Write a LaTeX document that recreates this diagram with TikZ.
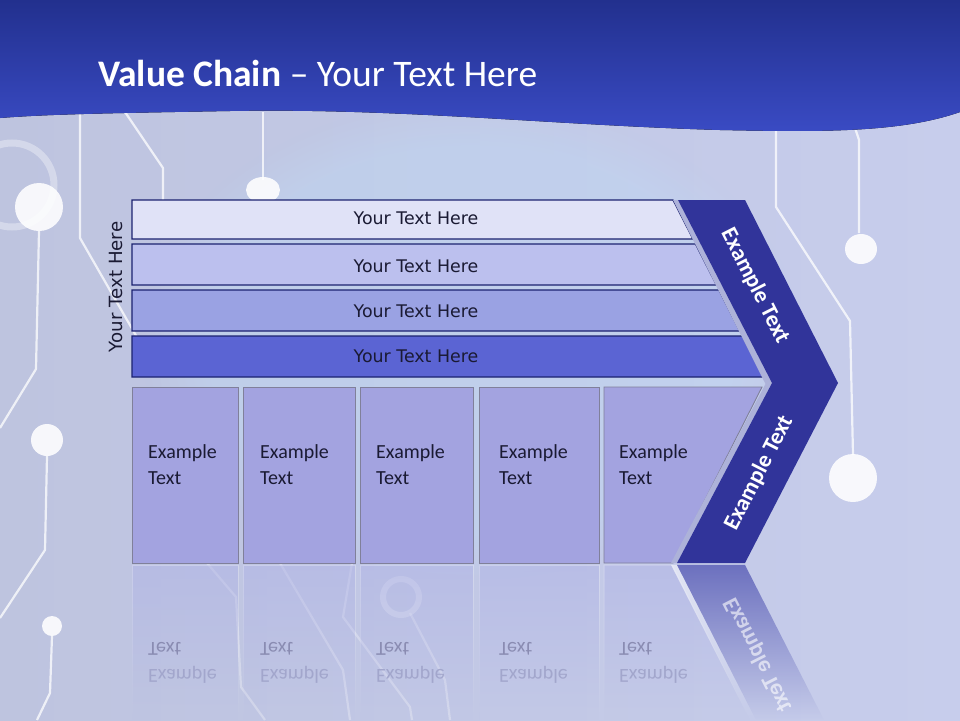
\documentclass[tikz,border=0pt]{standalone}
\usepackage{fontspec}
\setmainfont{Carlito}
\newfontfamily\dejavu{DejaVu Sans}
\usepackage{graphicx}
\usetikzlibrary{fadings}
\tikzfading[name=reflfade, top color=transparent!45, bottom color=transparent!100]
\tikzfading[name=reflfadeB, top color=transparent!15, bottom color=transparent!100]
\definecolor{bgL}{HTML}{BEC4DF}
\definecolor{bgR}{HTML}{C7CDEC}
\definecolor{glow}{HTML}{BEDDF8}
\definecolor{bandTop}{HTML}{22308E}
\definecolor{bandBot}{HTML}{3A4BC4}
\definecolor{barA}{HTML}{E0E2F7}
\definecolor{barB}{HTML}{BCC0EE}
\definecolor{barC}{HTML}{9AA2E3}
\definecolor{barD}{HTML}{5B64D3}
\definecolor{barEdge}{HTML}{1C2270}
\definecolor{chev}{HTML}{31349A}
\definecolor{stripe}{HTML}{ADB2D9}
\definecolor{boxFill}{HTML}{A3A3E0}
\definecolor{boxEdge}{HTML}{80809A}
\definecolor{txtDark}{HTML}{1A1A33}
\definecolor{reflBox}{HTML}{B0B4E6}
\definecolor{reflChev}{HTML}{5D61B8}
\definecolor{reflTxtA}{HTML}{8A8CB2}
\definecolor{reflTxtB}{HTML}{A2A6CC}
\begin{document}
\begin{tikzpicture}[x=1pt,y=-1pt,
  circ/.style={draw=white, line width=2.2, opacity=0.75},
  circfaint/.style={draw=white, line width=2.2, opacity=0.3},
  dot/.style={fill=white, opacity=0.88},
  barshape/.style={draw=barEdge, line width=1.2},
  barlabel/.style={font=\dejavu\fontsize{17.4}{20}\selectfont, text=txtDark, inner sep=0},
  boxshape/.style={fill=boxFill, draw=boxEdge, line width=0.9},
  boxlabel/.style={font=\fontsize{20}{26}\selectfont, text=txtDark, align=left, anchor=west, inner sep=0},
  refllabelA/.style={font=\fontsize{20}{26}\selectfont, text=reflTxtA, anchor=west, inner sep=0},
  refllabelB/.style={font=\fontsize{20}{26}\selectfont, text=reflTxtB, anchor=west, inner sep=0},
  chevlabel/.style={font=\bfseries\fontsize{23}{26}\selectfont, text=white, inner sep=0},
  reflboxshape/.style={fill=reflBox, draw=white, draw opacity=0.5, line width=1, path fading=reflfade}
]
\useasboundingbox (0,0) rectangle (960,720);
% background
\fill[left color=bgL, right color=bgR] (0,0) rectangle (960,720);
\fill[glow, fill opacity=0.35, path fading=circle with fuzzy edge 20 percent] (470,340) ellipse (330 and 240);
% circuit lines
\draw[white, opacity=0.35, line width=7] (12,185) circle (42);
\draw[circ] (39,231) -- (36,369) -- (0,428);
\fill[dot] (39,207) circle (24);
\draw[circ] (47,456) -- (45,550) -- (0,618);
\fill[dot] (47,440) circle (16);
\draw[circ] (52,636) -- (50,693) -- (37,720);
\fill[dot] (52,626) circle (10);
\draw[circ] (80,112) -- (80,238) -- (150,360);
\draw[circ] (125,112) -- (163,168) -- (163,200);
\draw[circ] (263,112) -- (263,180);
\fill[dot] (263,190) ellipse (17 and 13);
\draw[circ] (776,128) -- (776,207) -- (850,321) -- (853,455);
\fill[dot] (853,478) circle (24);
\draw[circ] (855,128) -- (859,140) -- (859,233);
\fill[dot] (861,249) ellipse (16 and 15);
\draw[circfaint] (207,563) -- (236,597) -- (241,687) -- (265,720);
\draw[circfaint] (280,563) -- (343,670) -- (350,720);
\draw[circfaint] (352,563) -- (343,617) -- (410,707) -- (412,720);
\draw[circfaint, line width=6] (401,597) circle (18);
\draw[circfaint] (410,613) -- (445,680) -- (450,720);
% top band
\fill[top color=bandTop, bottom color=bandBot]
  (0,0) -- (960,0) -- (960,112)
  .. controls (900,133) and (820,132) .. (720,130)
  .. controls (550,125) and (400,108) .. (230,111)
  .. controls (120,113) and (50,114) .. (0,118) -- cycle;
\node[anchor=west, text=white, inner sep=0, font=\fontsize{37.5}{42}\selectfont] (title) at (98,73) {\textbf{Value Chain} – Your Text Here};
% left label
\node[barlabel, font=\dejavu\fontsize{18.2}{20}\selectfont, rotate=90] (sidelabel) at (116,287) {Your Text Here};
% bars
\filldraw[barshape, fill=barA] (132,200) -- (673,200) -- (692.9,239) -- (132,239) -- cycle;
\filldraw[barshape, fill=barB] (132,244) -- (695.4,244) -- (716.4,285) -- (132,285) -- cycle;
\filldraw[barshape, fill=barC] (132,290) -- (718.9,290) -- (739.8,331) -- (132,331) -- cycle;
\filldraw[barshape, fill=barD] (132,336) -- (742.4,336) -- (763.3,377) -- (132,377) -- cycle;
\node[barlabel] (bar1) at (416,218) {Your Text Here};
\node[barlabel] (bar2) at (416,266) {Your Text Here};
\node[barlabel] (bar3) at (416,311) {Your Text Here};
\node[barlabel] (bar4) at (416,356) {Your Text Here};
% boxes
\filldraw[boxshape] (132,387) rectangle (238,563);
\filldraw[boxshape] (243,387) rectangle (355,563);
\filldraw[boxshape] (360,387) rectangle (473,563);
\filldraw[boxshape] (479,387) rectangle (599,563);
\filldraw[boxshape] (604,387) -- (762,387) -- (673,563) -- (604,563) -- cycle;
\node[boxlabel] (box1) at (148,465) {Example\\Text};
\node[boxlabel] (box2) at (260,465) {Example\\Text};
\node[boxlabel] (box3) at (376,465) {Example\\Text};
\node[boxlabel] (box4) at (499,465) {Example\\Text};
\node[boxlabel] (box5) at (619,465) {Example\\Text};
% stripe and chevron
\fill[stripe] (673,200) -- (678,200) -- (772,383) -- (677,563) -- (671,563) -- (765.5,384) -- cycle;
\fill[chev] (678,200) -- (745,200) -- (838,383) -- (745,563) -- (677,563) -- (772,383) -- cycle;
\node[chevlabel, rotate=-63] (chevup) at (755,286) {Example Text};
\node[chevlabel, rotate=63] (chevdown) at (759,473) {Example Text};
% reflection
\path[reflboxshape] (132,565) rectangle (238,720);
\path[reflboxshape] (243,565) rectangle (355,720);
\path[reflboxshape] (360,565) rectangle (473,720);
\path[reflboxshape] (479,565) rectangle (599,720);
\path[reflboxshape] (604,565) -- (672,565) -- (750,720) -- (604,720) -- cycle;
\fill[white, path fading=reflfadeB, fill opacity=0.6] (671,565) -- (677,565) -- (756,720) -- (750,720) -- cycle;
\fill[reflChev, path fading=reflfadeB] (677,565) -- (745,565) -- (824,720) -- (756,720) -- cycle;
\node[refllabelA] (r1) at (148,649) {\scalebox{1}[-1]{Text}};
\node[refllabelB] (r1b) at (148,675) {\scalebox{1}[-1]{Example}};
\node[refllabelA] (r2) at (260,649) {\scalebox{1}[-1]{Text}};
\node[refllabelB] (r2b) at (260,675) {\scalebox{1}[-1]{Example}};
\node[refllabelA] (r3) at (376,649) {\scalebox{1}[-1]{Text}};
\node[refllabelB] (r3b) at (376,675) {\scalebox{1}[-1]{Example}};
\node[refllabelA] (r4) at (499,649) {\scalebox{1}[-1]{Text}};
\node[refllabelB] (r4b) at (499,675) {\scalebox{1}[-1]{Example}};
\node[refllabelA] (r5) at (619,649) {\scalebox{1}[-1]{Text}};
\node[refllabelB] (r5b) at (619,675) {\scalebox{1}[-1]{Example}};
\node[chevlabel, rotate=-63, text=white, text opacity=0.6] (rchev) at (758,655) {\scalebox{1}[-1]{Example Text}};
\end{tikzpicture}
\end{document}
